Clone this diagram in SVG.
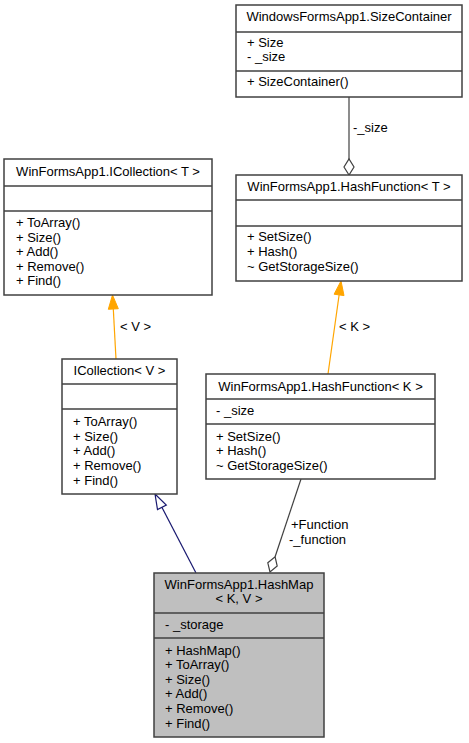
<svg xmlns="http://www.w3.org/2000/svg" width="469" height="743" viewBox="0 0 469 743">
<style>
text{font-family:"Liberation Sans",Arial,sans-serif;font-size:13px;fill:#000}
.c{text-anchor:middle}
.box{fill:#fff;stroke:#404040;stroke-width:1.5}
.hl{fill:#bfbfbf}
.sep{stroke:#404040;stroke-width:1.5}
.agg{stroke:#404040;stroke-width:1.2;fill:none}
.tpl{stroke:#ffa500;stroke-width:1.2;fill:none}
.inh{stroke:#191970;stroke-width:1.2;fill:none}
</style>
<rect width="469" height="743" fill="#fff"/>
<g id="connectors">
<path class="agg" d="M349,97 L349,160"/>
<path d="M349,175 L344,167 L349,159 L354,167 Z" fill="#fff" stroke="#404040" stroke-width="1.2"/>
<text x="353" y="132">-_size</text>
<path class="tpl" d="M116,359 L113.3,309"/>
<path d="M112.5,295 L118.3,308.7 L108.3,309.3 Z" fill="#ffa500" stroke="#ffa500"/>
<text x="120" y="330.5">&lt; V &gt;</text>
<path class="tpl" d="M328,374 L339.1,295"/>
<path d="M341,281 L344,295.6 L334.1,294.2 Z" fill="#ffa500" stroke="#ffa500"/>
<text x="339" y="330.5">&lt; K &gt;</text>
<path class="inh" d="M196,573 L161.9,507.3"/>
<path d="M155,494 L166.3,505 L157.5,509.6 Z" fill="#fff" stroke="#191970" stroke-width="1.2"/>
<path class="agg" d="M301,479 L275.1,556.8"/>
<path d="M270,572 L267.8,562.8 L275.1,556.8 L277.2,566 Z" fill="#fff" stroke="#404040" stroke-width="1.2"/>
<text x="291" y="528.5">+Function</text>
<text x="289" y="543.5">-_function</text>
</g>
<g id="SizeContainer">
<rect class="box" x="236" y="5" width="226" height="92"/>
<line class="sep" x1="236" y1="32" x2="462" y2="32"/>
<line class="sep" x1="236" y1="71" x2="462" y2="71"/>
<text class="c" x="349" y="21">WindowsFormsApp1.SizeContainer</text>
<text x="247" y="47">+ Size</text>
<text x="247" y="61">- _size</text>
<text x="247" y="86">+ SizeContainer()</text>
</g>
<g id="HashFunctionT">
<rect class="box" x="236" y="175" width="226" height="106"/>
<line class="sep" x1="236" y1="200" x2="462" y2="200"/>
<line class="sep" x1="236" y1="226" x2="462" y2="226"/>
<text class="c" x="349" y="190.5">WinFormsApp1.HashFunction&lt; T &gt;</text>
<text x="247" y="241">+ SetSize()</text>
<text x="247" y="256">+ Hash()</text>
<text x="247" y="270.5">~ GetStorageSize()</text>
</g>
<g id="ICollectionT">
<rect class="box" x="4" y="159" width="208" height="136"/>
<line class="sep" x1="4" y1="186" x2="212" y2="186"/>
<line class="sep" x1="4" y1="211" x2="212" y2="211"/>
<text class="c" x="108" y="175.5">WinFormsApp1.ICollection&lt; T &gt;</text>
<text x="16" y="227">+ ToArray()</text>
<text x="16" y="241.5">+ Size()</text>
<text x="16" y="256">+ Add()</text>
<text x="16" y="270.5">+ Remove()</text>
<text x="16" y="285">+ Find()</text>
</g>
<g id="ICollectionV">
<rect class="box" x="62" y="359" width="115" height="135"/>
<line class="sep" x1="62" y1="384" x2="177" y2="384"/>
<line class="sep" x1="62" y1="409" x2="177" y2="409"/>
<text class="c" x="119.5" y="374.5">ICollection&lt; V &gt;</text>
<text x="73" y="426">+ ToArray()</text>
<text x="73" y="440.5">+ Size()</text>
<text x="73" y="455">+ Add()</text>
<text x="73" y="469.5">+ Remove()</text>
<text x="73" y="484.5">+ Find()</text>
</g>
<g id="HashFunctionK">
<rect class="box" x="206" y="374" width="229" height="105"/>
<line class="sep" x1="206" y1="399" x2="435" y2="399"/>
<line class="sep" x1="206" y1="424" x2="435" y2="424"/>
<text class="c" x="320.5" y="390.5">WinFormsApp1.HashFunction&lt; K &gt;</text>
<text x="216" y="414.5">- _size</text>
<text x="216" y="440.5">+ SetSize()</text>
<text x="216" y="455">+ Hash()</text>
<text x="216" y="469.5">~ GetStorageSize()</text>
</g>
<g id="HashMap">
<rect class="box hl" x="154" y="573" width="170" height="164"/>
<line class="sep" x1="154" y1="613" x2="324" y2="613"/>
<line class="sep" x1="154" y1="638" x2="324" y2="638"/>
<text class="c" x="239" y="588.5">WinFormsApp1.HashMap</text>
<text class="c" x="239" y="602.5">&lt; K, V &gt;</text>
<text x="165" y="628.5">- _storage</text>
<text x="165" y="654.5">+ HashMap()</text>
<text x="165" y="668.5">+ ToArray()</text>
<text x="165" y="683.5">+ Size()</text>
<text x="165" y="697.5">+ Add()</text>
<text x="165" y="712.5">+ Remove()</text>
<text x="165" y="727.5">+ Find()</text>
</g>
</svg>
